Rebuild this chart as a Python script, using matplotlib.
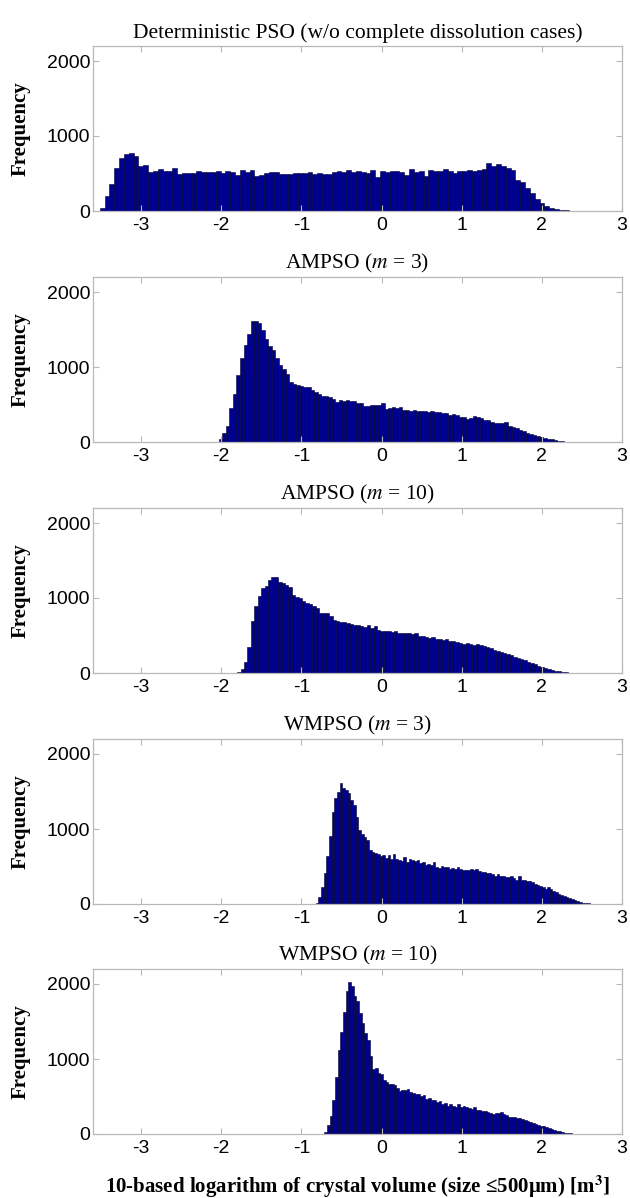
import numpy as np
import matplotlib
matplotlib.use("Agg")
import matplotlib.pyplot as plt

plt.rcParams["font.family"] = "Liberation Sans"
plt.rcParams["mathtext.fontset"] = "stix"

# histogram counts (bin start, bin width, counts)
det_start, det_width = -3.516, 0.0603
det_counts = [40, 195, 360, 572, 705, 760, 770, 727, 600, 620,
              522, 540, 555, 532, 528, 568, 500, 512, 510, 505,
              530, 520, 515, 525, 535, 510, 540, 522, 485, 550,
              515, 548, 470, 480, 505, 520, 525, 490, 500, 498,
              512, 503, 510, 520, 495, 505, 490, 500, 520, 535,
              520, 550, 520, 540, 525, 510, 545, 450, 530, 520,
              535, 530, 520, 485, 560, 520, 540, 470, 545, 540,
              535, 560, 530, 505, 540, 530, 545, 530, 545, 555,
              640, 605, 631, 596, 580, 552, 420, 384, 310, 243,
              163, 101, 66, 35, 22, 13, 8, 5, 3, 2]

amp3_start, amp3_width = -2.03, 0.044
amp3_counts = [35, 115, 215, 450, 645, 900, 1115, 1290, 1435, 1610,
               1616, 1590, 1500, 1380, 1280, 1227, 1117, 1029, 971, 905,
               795, 770, 760, 742, 735, 730, 698, 662, 645, 618,
               612, 605, 574, 530, 556, 543, 565, 552, 548, 521,
               518, 477, 482, 490, 488, 500, 521, 446, 455, 463,
               460, 466, 424, 430, 420, 426, 418, 410, 412, 405,
               410, 406, 400, 389, 392, 366, 370, 362, 331, 335,
               313, 318, 344, 330, 326, 287, 290, 265, 250, 257,
               255, 265, 220, 205, 185, 165, 145, 125, 110, 95,
               80, 68, 55, 45, 35, 25, 17, 10, 6, 3]

amp10_start, amp10_width = -1.80, 0.0425
amp10_counts = [20, 60, 150, 350, 689, 887, 1033, 1130, 1160, 1240,
                1285, 1280, 1210, 1196, 1180, 1152, 1042, 1020, 998, 954,
                932, 920, 887, 865, 799, 800, 799, 760, 711, 689,
                680, 680, 667, 660, 645, 640, 623, 620, 645, 600,
                630, 578, 556, 556, 560, 550, 556, 534, 534, 540,
                530, 520, 534, 500, 490, 480, 470, 475, 460, 455,
                445, 452, 430, 426, 410, 405, 388, 398, 385, 372,
                392, 370, 365, 345, 338, 310, 298, 275, 268, 250,
                235, 220, 205, 190, 170, 150, 135, 118, 100, 85,
                70, 55, 42, 30, 22, 15, 10, 6, 3, 1]

wm3_start, wm3_width = -0.822, 0.0332
wm3_counts = [10, 90, 224, 412, 635, 904, 1230, 1409, 1499, 1611,
              1544, 1521, 1477, 1387, 1320, 1163, 993, 940, 895, 859,
              716, 693, 685, 671, 635, 649, 617, 649, 604, 662,
              604, 582, 573, 626, 559, 604, 590, 573, 582, 546,
              559, 515, 528, 515, 559, 492, 483, 501, 492, 492,
              470, 479, 470, 492, 470, 456, 447, 456, 470, 447,
              461, 438, 425, 425, 412, 412, 403, 380, 403, 380,
              367, 358, 358, 367, 349, 322, 380, 322, 322, 313,
              304, 291, 268, 260, 246, 224, 201, 224, 201, 179,
              157, 134, 121, 112, 98, 81, 67, 54, 45, 27,
              18, 13, 9, 5, 4, 2]

wm10_start, wm10_width = -0.714, 0.0332
wm10_counts = [22, 125, 246, 456, 761, 1119, 1365, 1633, 1902, 2022,
               1978, 1834, 1767, 1620, 1485, 1351, 1253, 1038, 872, 886,
               814, 796, 716, 693, 671, 671, 649, 617, 573, 590,
               582, 595, 559, 546, 537, 528, 501, 515, 470, 483,
               456, 456, 425, 434, 403, 412, 380, 403, 380, 358,
               394, 358, 380, 358, 349, 336, 358, 322, 322, 313,
               304, 291, 277, 268, 277, 277, 291, 268, 260, 233,
               224, 224, 215, 215, 201, 188, 179, 157, 143, 134,
               121, 112, 103, 89, 81, 67, 54, 45, 36, 27,
               18, 13, 9, 5, 4, 2, 1]

titles = ["Deterministic PSO (w/o complete dissolution cases)",
          r"AMPSO ($m$ = 3)", r"AMPSO ($m$ = 10)",
          r"WMPSO ($m$ = 3)", r"WMPSO ($m$ = 10)"]
panels = [(det_start, det_width, det_counts),
          (amp3_start, amp3_width, amp3_counts),
          (amp10_start, amp10_width, amp10_counts),
          (wm3_start, wm3_width, wm3_counts),
          (wm10_start, wm10_width, wm10_counts)]
xticks = [-3, -2, -1, 0, 1, 2, 3]
yticks = [0, 1000, 2000]

W, H = 630, 1198
fig = plt.figure(figsize=(W / 100, H / 100), dpi=100)

left, right = 93, 622
ax_h = 165
tops = [46, 277, 508, 739, 969]
frame_col = "#b8b8b8"

for (start, width, counts), title, top in zip(panels, titles, tops):
    ax = fig.add_axes([left / W, 1 - (top + ax_h) / H, (right - left) / W, ax_h / H])
    counts = np.array(counts)
    edges = start + width * np.arange(len(counts))
    ax.bar(edges, counts, width=width, align="edge",
           color="#00008f", edgecolor="#000030", linewidth=0.4)
    ax.set_xlim(-3.6, 3)
    ax.set_ylim(0, 2200)
    ax.set_xticks(xticks)
    ax.set_yticks(yticks)
    ax.set_xticklabels([str(t) for t in xticks])
    ax.tick_params(direction="in", top=True, right=True, length=4,
                   color=frame_col, labelsize=14)
    ax.tick_params(axis="x", pad=4)
    ax.tick_params(axis="y", pad=2)
    for s in ax.spines.values():
        s.set_color(frame_col)
        s.set_linewidth(0.9)
    ax.set_title(title, fontfamily="Liberation Serif", fontsize=15.5, pad=6)
    ax.set_ylabel("Frequency", fontfamily="Liberation Serif", fontweight="bold",
                  fontsize=15)
    ax.yaxis.set_label_coords(-0.118, 0.5)

fig.text((left + right) / 2 / W, 1 - 1187 / H,
         r"10-based logarithm of crystal volume (size ≤500μm) [m$^{\mathbf{3}}$]",
         ha="center", va="center", fontfamily="Liberation Serif",
         fontweight="bold", fontsize=15)

fig.savefig("out.png", dpi=100)
